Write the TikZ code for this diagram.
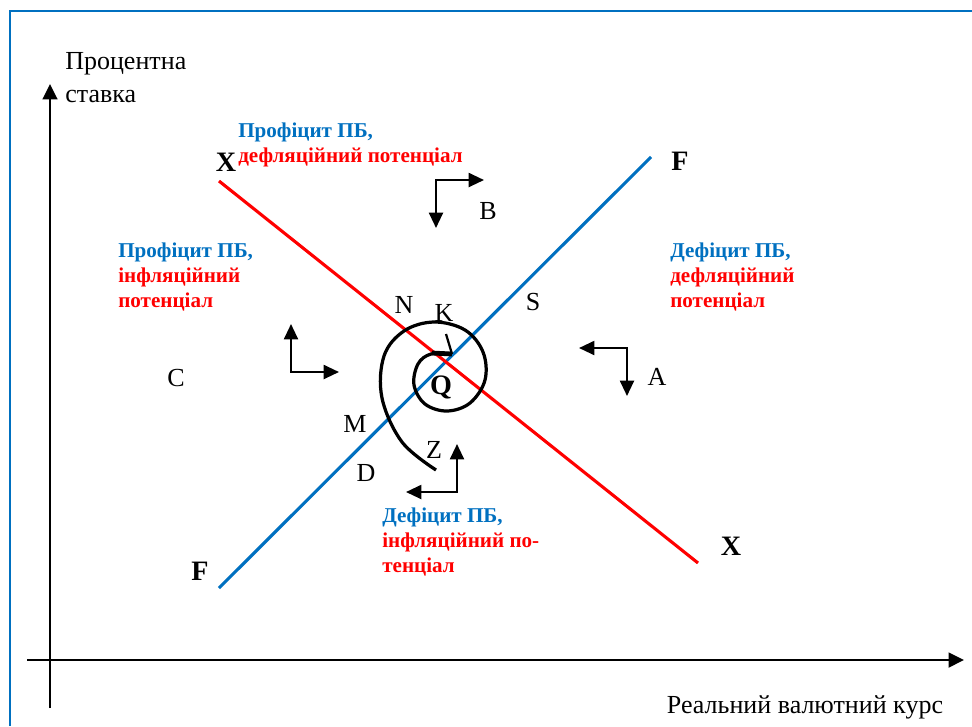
\documentclass[tikz,border=0pt]{standalone}
\usepackage{fontspec}
\setmainfont{Liberation Serif}
\usetikzlibrary{arrows.meta}
\definecolor{pbblue}{RGB}{0,112,192}
\definecolor{pbred}{RGB}{255,0,0}

\begin{document}
\begin{tikzpicture}[
  x=0.025cm, y=-0.025cm,
  lbl/.style={font=\fontsize{18.5}{23.5}\selectfont, inner sep=0pt},
  bold/.style={font=\fontsize{20}{24}\selectfont\bfseries, inner sep=0pt},
  zone/.style={font=\fontsize{15}{17.6}\selectfont\bfseries, align=left, anchor=north west, inner sep=0pt},
  axis/.style={line width=1.8pt, -{Triangle[length=11pt, width=10.5pt]}},
  move/.style={line width=1.6pt, line cap=rect, -{Triangle[length=11pt, width=10pt]}},
  frame/.style={pbblue, line width=2pt}
]
\useasboundingbox (0,0) rectangle (972,726);
\draw[frame] (10,726) -- (10,11) -- (972,11);

% axes
\coordinate (o1) at (50,708);
\coordinate (o2) at (50,84);
\coordinate (h1) at (27,660);
\coordinate (h2) at (964,660);
\draw[axis] (o1) -- (o2);
\draw[axis] (h1) -- (h2);
\node[lbl, align=left, anchor=north west] (rate) at (65,52) {Процентна\\ставка};
\node[lbl] (course) at (805,707) {Реальний валютний курс};

% FF and XX lines
\node[bold] (Fl) at (200,571) {F};
\node[bold] (Fr) at (680,161) {F};
\node[bold] (Xl) at (226,162) {X};
\node[bold] (Xr) at (731,546) {X};
\coordinate (f1) at (219,588);
\coordinate (f2) at (651,157);
\coordinate (x1) at (219,181);
\coordinate (x2) at (698,563);
\draw[pbblue, line width=2.2pt] (f1) -- (f2);
\draw[pbred, line width=2.2pt] (x1) -- (x2);

% zone texts
\node[zone] (top) at (238,123) {{\color{pbblue}Профіцит ПБ,}\\{\color{pbred}дефляційний потенціал}};
\node[zone] (left) at (118,243) {{\color{pbblue}Профіцит ПБ,}\\{\color{pbred}інфляційний}\\{\color{pbred}потенціал}};
\node[zone] (right) at (670,243) {{\color{pbblue}Дефіцит ПБ,}\\{\color{pbred}дефляційний}\\{\color{pbred}потенціал}};
\node[zone] (bottom) at (382,508) {{\color{pbblue}Дефіцит ПБ,}\\{\color{pbred}інфляційний по-}\\{\color{pbred}тенціал}};

% letters
\node[lbl] (B) at (488,211) {B};
\node[lbl] (C) at (176,378) {C};
\node[lbl] (A) at (657,377) {A};
\node[lbl] (N) at (404,305) {N};
\node[lbl] (K) at (444,313) {K};
\node[lbl] (S) at (533,302) {S};
\node[lbl] (M) at (355,424) {M};
\node[lbl] (D) at (366,473) {D};
\node[lbl] (Z) at (434,450) {Z};
\node[bold] (Q) at (441,387) {Q};

% corner arrows
\coordinate (b0) at (436,180); \coordinate (b1) at (484,180); \coordinate (b2) at (436,228);
\coordinate (c0) at (291,372); \coordinate (c1) at (291,324); \coordinate (c2) at (339,372);
\coordinate (a0) at (627,348); \coordinate (a1) at (579,348); \coordinate (a2) at (627,396);
\coordinate (z0) at (457,492); \coordinate (z1) at (457,444); \coordinate (z2) at (406,492);
\foreach \p in {b,c,a,z} {
  \draw[move] (\p0) -- (\p1);
  \draw[move] (\p0) -- (\p2);
}

% spiral
\coordinate (s0) at (436,470);
\coordinate (k0) at (452,354);
\coordinate (k1) at (446,334);
\draw[line width=2.3pt] plot[smooth, tension=0.6] coordinates {(s0) (402,442) (382,398) (384,356) (404,331) (434,322) (465,330) (483,352) (485,380) (470,403) (447,411) (425,404) (414,385) (418,364) (431,354) (k0)};
\draw[line width=3.4pt] (432,353) -- (k0);
\draw[line width=1.6pt] (k0) -- (k1);
\end{tikzpicture}
\end{document}
